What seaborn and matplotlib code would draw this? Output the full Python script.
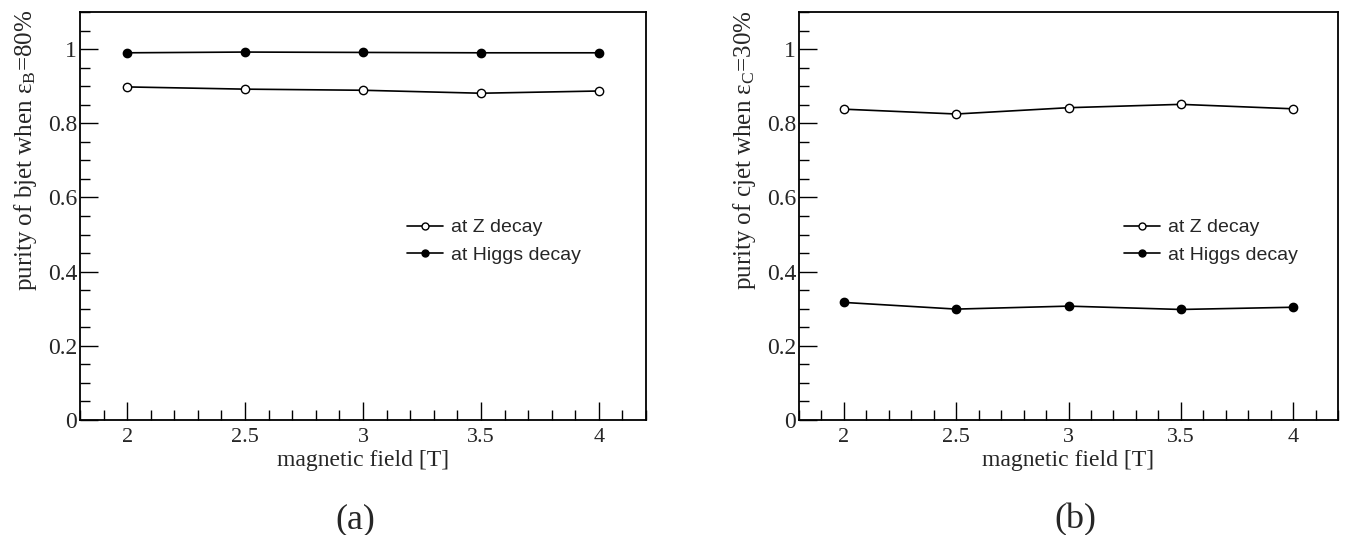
import numpy as np
import pandas as pd
import matplotlib
matplotlib.use("Agg")
import matplotlib.pyplot as plt
import seaborn as sns
from matplotlib.ticker import MultipleLocator

sns.set_theme(style="white")
plt.rcParams["font.family"] = ["Liberation Serif", "DejaVu Serif"]
plt.rcParams["mathtext.fontset"] = "custom"
plt.rcParams["mathtext.rm"] = "Liberation Serif"
plt.rcParams["mathtext.it"] = "Liberation Serif:italic"

# Magnetic field scan points [T]
field = [2.0, 2.5, 3.0, 3.5, 4.0]

# b-jet purity at eps_B = 80%
bjet_z = [0.898, 0.892, 0.889, 0.881, 0.887]
bjet_higgs = [0.990, 0.992, 0.991, 0.990, 0.990]

# c-jet purity at eps_C = 30%
cjet_z = [0.838, 0.825, 0.842, 0.851, 0.839]
cjet_higgs = [0.317, 0.299, 0.307, 0.298, 0.304]

series_labels = ["at Z decay", "at Higgs decay"]
ylabels = [r"purity of bjet when ε$_{\rm B}$=80%",
           r"purity of cjet when ε$_{\rm C}$=30%"]
captions = ["(a)", "(b)"]
caption_x = [355 / 1349, 1075 / 1349]


def long_table(z_vals, h_vals):
    return pd.DataFrame({
        "field": field * 2,
        "purity": z_vals + h_vals,
        "decay": [series_labels[0]] * len(field) + [series_labels[1]] * len(field),
    })


fig = plt.figure(figsize=(13.49, 5.35), dpi=100)
ax_a = fig.add_axes([80 / 1349, 115 / 535, 566 / 1349, 408 / 535])
ax_b = fig.add_axes([799 / 1349, 115 / 535, 539 / 1349, 408 / 535])

for ax, (zv, hv), ylab, cap, cx, leg_x in zip(
        [ax_a, ax_b],
        [(bjet_z, bjet_higgs), (cjet_z, cjet_higgs)],
        ylabels, captions, caption_x, [0.578, 0.603]):
    df = long_table(zv, hv)
    for name, face in zip(series_labels, ["white", "black"]):
        sub = df[df["decay"] == name]
        sns.lineplot(data=sub, x="field", y="purity", ax=ax, color="black",
                     linewidth=1.2, marker="o", markersize=6,
                     markerfacecolor=face, markeredgecolor="black",
                     markeredgewidth=1.0, label=name)

    ax.set_xlim(1.8, 4.2)
    ax.set_ylim(0, 1.1)
    ax.xaxis.set_minor_locator(MultipleLocator(0.1))
    ax.yaxis.set_minor_locator(MultipleLocator(0.05))
    ax.set_xticks([2, 2.5, 3, 3.5, 4])
    ax.set_xticklabels(["2", "2.5", "3", "3.5", "4"])
    ax.set_yticks([0, 0.2, 0.4, 0.6, 0.8, 1.0])
    ax.set_yticklabels(["0", "0.2", "0.4", "0.6", "0.8", "1"])
    ax.tick_params(axis="both", which="major", direction="in", length=13,
                   width=1.0, color="black", labelsize=16,
                   bottom=True, left=True, top=False, right=False)
    ax.tick_params(axis="both", which="minor", direction="in", length=7,
                   width=1.0, color="black",
                   bottom=True, left=True, top=False, right=False)
    ax.tick_params(axis="y", which="major", pad=2, labelsize=17)
    ax.tick_params(axis="x", which="major", pad=6)
    for sp in ax.spines.values():
        sp.set_visible(True)
        sp.set_color("black")
        sp.set_linewidth(1.3)
    ax.set_xlabel("magnetic field [T]", fontsize=17, labelpad=2)
    ax.set_ylabel(ylab, fontsize=18, loc="top")
    width_px = ax.get_position().width * 1349
    ax.yaxis.set_label_coords(-41 / width_px, 1.005)
    ax.grid(False)

    leg = ax.legend(loc="upper left", bbox_to_anchor=(leg_x, 0.493),
                    frameon=False, handlelength=1.85, handletextpad=0.4,
                    labelspacing=0.5, borderaxespad=0, borderpad=0,
                    prop={"family": "Liberation Sans", "size": 14})
    for line in leg.get_lines():
        line.set_linewidth(1.2)
        line.set_markersize(5)

    fig.text(cx, 15 / 535, cap, ha="center", va="center", fontsize=26)

fig.savefig("out.png", dpi=100, facecolor="white")
